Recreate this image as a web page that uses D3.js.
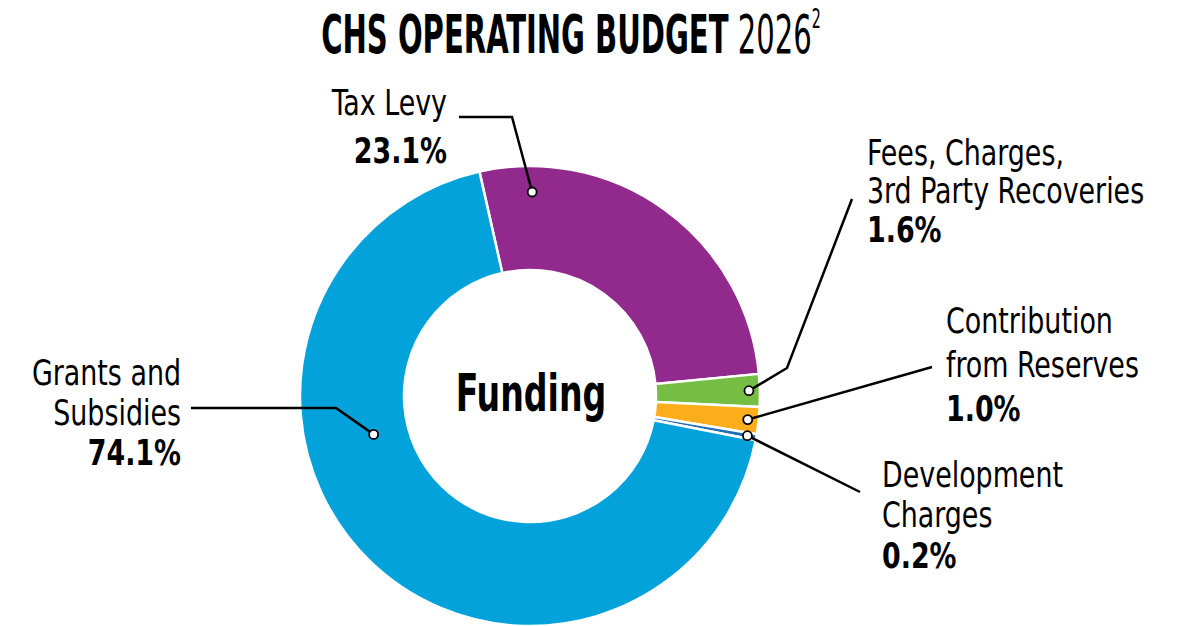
<!DOCTYPE html>
<html>
<head>
<meta charset="utf-8">
<script src="https://cdn.jsdelivr.net/npm/d3@7"></script>
<style>
  body { margin: 0; background: #fff; }
  text { font-family: "Liberation Sans Narrow", "DejaVu Sans Condensed", "Arial Narrow", sans-serif; fill: #000; }
</style>
</head>
<body>
<div id="donut"></div>
<script>
// funding sources, clockwise from the top
var categories = ["Tax Levy", "Fees, Charges, 3rd Party Recoveries", "Contribution from Reserves", "Development Charges", "Grants and Subsidies"];
var percentLabels = ["23.1%", "1.6%", "1.0%", "0.2%", "74.1%"];
// share of the ring each slice takes as drawn (small slices are drawn larger than their share)
var sliceWeights = [27.0, 2.3, 1.9, 0.42, 68.4];
var labelLines = [
    ["Tax Levy"],
    ["Fees, Charges,", "3rd Party Recoveries"],
    ["Contribution", "from Reserves"],
    ["Development", "Charges"],
    ["Grants and", "Subsidies"]
];
var colors = ["#912a8c", "#76bd43", "#fcae1a", "#1f6fb7", "#04a2db"];

var width = 1186, height = 626;
var cx = 530, cy = 396, outerR = 230, innerR = 126;
var squeeze = 0.83;     // labels font is condensed

var svg = d3.select("#donut")
    .append("svg")
    .attr("width", width)
    .attr("height", height);

// title
var title = svg.append("text")
    .attr("transform", "translate(571,53) scale(0.61,1)")
    .attr("text-anchor", "middle")
    .style("font-size", "53px");
title.append("tspan").style("font-weight", "bold").text("CHS OPERATING BUDGET");
title.append("tspan").style("font-weight", "normal").text(" 2026");
title.append("tspan").style("font-weight", "normal").style("font-size", "26px")
    .attr("dy", -25).text("2");

var g = svg.append("g")
    .attr("transform", "translate(" + cx + "," + cy + ")");

var pie = d3.pie()
    .sort(null)
    .startAngle(-12.7 * Math.PI / 180)
    .endAngle(2 * Math.PI - 12.7 * Math.PI / 180)
    .value(function(d) { return d; });

var arcs = pie(sliceWeights);

var arc = d3.arc()
    .innerRadius(innerR)
    .outerRadius(outerR);

g.selectAll("path.slice")
    .data(arcs)
    .enter()
    .append("path")
    .attr("class", "slice")
    .attr("d", arc)
    .attr("fill", function(d, i) { return colors[i]; })
    .attr("stroke", "#fff")
    .attr("stroke-width", 2.5)
    .attr("stroke-linejoin", "round");

g.append("text")
    .attr("transform", "translate(1,15) scale(0.71,1)")
    .attr("text-anchor", "middle")
    .style("font-size", "52px")
    .style("font-weight", "bold")
    .text("Funding");

// where the dot sits inside each slice: fraction along the slice, radius
var dotAt = [[0.137, 204], [0.5, 219], [0.5, 219], [0.5, 221], [0.63, 161]];
// leader bends and ends (page coords)
var leaderPoints = [
    [[512, 117], [459, 117]],
    [[787, 368], [852, 199]],
    [[932, 367]],
    [[860, 492]],
    [[336, 408], [191, 408]]
];
// label block: x, first baseline, line step, anchor
var labelBlocks = [
    [447, 115, 48, "end"],
    [867, 165, 38.5, "start"],
    [946, 333, 44, "start"],
    [882, 487, 40.5, "start"],
    [181, 385, 40, "end"]
];

function dotPos(d, i) {
    var a = d.startAngle + (d.endAngle - d.startAngle) * dotAt[i][0];
    var r = dotAt[i][1];
    return [cx + r * Math.sin(a), cy - r * Math.cos(a)];
}

var line = d3.line();

svg.selectAll("path.leader")
    .data(arcs)
    .enter()
    .append("path")
    .attr("class", "leader")
    .attr("d", function(d, i) { return line([dotPos(d, i)].concat(leaderPoints[i])); })
    .attr("fill", "none")
    .attr("stroke", "#000")
    .attr("stroke-width", 2.5);

svg.selectAll("circle.dot")
    .data(arcs)
    .enter()
    .append("circle")
    .attr("class", "dot")
    .attr("cx", function(d, i) { return dotPos(d, i)[0]; })
    .attr("cy", function(d, i) { return dotPos(d, i)[1]; })
    .attr("r", 4.5)
    .attr("fill", "#fff")
    .attr("stroke", "#000")
    .attr("stroke-width", 1.8);

// labels
categories.forEach(function(name, i) {
    var b = labelBlocks[i];
    var t = svg.append("text")
        .attr("transform", "translate(" + b[0] + "," + b[1] + ") scale(" + squeeze + ",1)")
        .attr("text-anchor", b[3])
        .style("font-size", "36px");
    var lines = labelLines[i];
    lines.forEach(function(l, j) {
        t.append("tspan").attr("x", 0).attr("y", j * b[2]).text(l);
    });
    t.append("tspan")
        .attr("x", 0)
        .attr("y", lines.length * b[2])
        .style("font-weight", "bold")
        .text(percentLabels[i]);
});
</script>
</body>
</html>
